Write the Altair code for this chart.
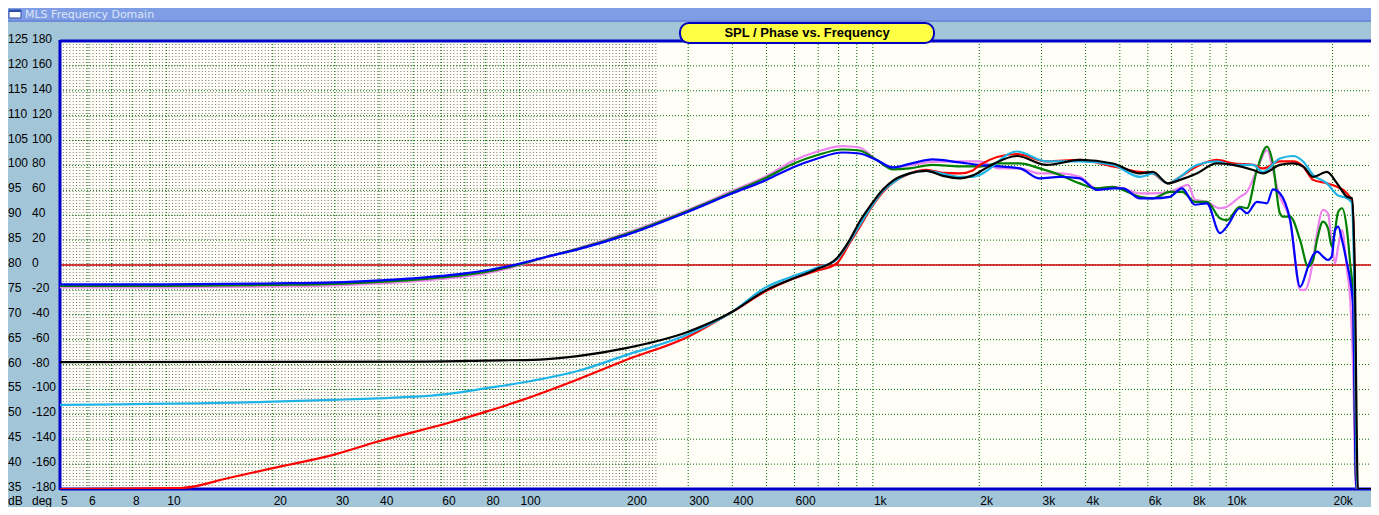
import altair as alt
import numpy as np
import pandas as pd

# ---------------- data ----------------
BLUE_F = [5, 10, 20, 30, 40, 50, 60, 70, 80, 95, 120, 147, 200, 300, 400, 500, 593, 697, 820, 916,
          1025, 1138, 1271, 1475, 1762, 2005, 2285, 2605, 2965, 3380, 3850, 4300, 4780, 5100, 5700, 6200,
          6930, 7500, 8160, 8820, 9600, 10040, 10930, 11450, 12220, 13050, 13560, 14190, 15170, 16190,
          17060, 17620, 18080, 18790, 19410, 19900, 20330, 20750, 21280, 21980, 22440, 22860, 23350, 26000]
BLUE_DB = [76.1, 76.1, 76.3, 76.5, 76.9, 77.3, 77.8, 78.3, 78.9, 79.9, 81.7, 83.2, 86.0, 90.7, 94.4,
           97.1, 99.6, 101.4, 102.6, 102.4, 101.1, 99.6, 100.3, 101.2, 100.6, 100.1, 99.8, 99.4, 97.4, 97.7,
           97.4, 95.1, 95.4, 95.4, 93.4, 93.4, 93.7, 95.4, 92.1, 92.4, 86.4, 87.7, 91.4, 90.4, 92.7, 92.4,
           95.2, 94.4, 89.0, 75.6, 79.7, 82.0, 82.7, 81.7, 81.0, 81.7, 87.0, 87.7, 85.0, 80.3, 77.0, 71.6,
           35, 35]

GREEN_F = [5, 10, 20, 30, 40, 50, 60, 70, 80, 95, 120, 147, 200, 300, 400, 500, 593, 697, 820, 916,
           1025, 1138, 1271, 1475, 1762, 2005, 2285, 2605, 2965, 3380, 3850, 4300, 4780, 5100, 5700, 6200,
           6930, 7500, 8160, 8820, 9600, 10040, 10930, 11450, 12220, 13050, 13560, 14190, 14490, 15170,
           16190, 17060, 17620, 18080, 18790, 19410, 19900, 20330, 20750, 21280, 21980, 22440, 22860,
           23350, 26000]
GREEN_DB = [75.8, 75.8, 76.0, 76.2, 76.6, 77.0, 77.5, 78.0, 78.6, 79.7, 81.7, 83.3, 86.2, 90.9,
            94.6, 97.6, 100.3, 102.1, 103.2, 103.0, 101.1, 99.2, 99.4, 100.1, 99.8, 99.8, 100.4, 100.4,
            99.4, 98.1, 96.4, 95.4, 95.7, 95.1, 93.7, 93.4, 94.7, 94.7, 92.7, 92.7, 89.4, 89.0, 91.7, 91.4,
            99.1, 103.8, 100.4, 90.4, 89.7, 89.7, 85.0, 79.7, 81.0, 85.0, 88.7, 87.4, 83.7, 87.0, 90.7,
            91.4, 87.0, 80.3, 73.6, 35, 35]

MAGENTA_F = [5, 10, 20, 30, 40, 50, 60, 70, 80, 95, 120, 147, 200, 300, 400, 500, 593, 697, 820,
             916, 1025, 1138, 1271, 1475, 1762, 2005, 2285, 2605, 2965, 3380, 3850, 4300, 4780, 5100, 5700,
             6200, 6930, 7500, 7800, 8160, 8820, 9600, 10040, 10930, 11450, 12220, 13050, 13560, 14190,
             14490, 15170, 16190, 16700, 17620, 18080, 18790, 19410, 19900, 20330, 20750, 21280, 21980,
             22440, 22860, 23300, 26000]
MAGENTA_DB = [75.5, 75.5, 75.7, 75.9, 76.3, 76.7, 77.2, 77.7, 78.3, 79.5, 81.6, 83.4, 86.4, 91.1,
              94.9, 97.9, 100.9, 102.8, 103.9, 103.6, 101.1, 99.6, 100.0, 100.7, 100.8, 100.8, 99.4, 99.4,
              98.4, 98.4, 97.7, 95.4, 95.7, 95.4, 94.4, 94.4, 94.7, 95.7, 96.1, 93.1, 92.7, 91.4, 91.7,
              93.7, 94.7, 99.1, 103.1, 99.1, 93.7, 92.4, 89.0, 75.0, 75.0, 81.0, 86.4, 91.1, 90.4, 84.4,
              80.3, 83.7, 87.0, 79.0, 73.0, 60.0, 35, 35]

RED_F = [5, 11, 15, 20, 29.5, 39.5, 63, 80, 100, 146, 200, 300, 400, 500, 581, 684, 789, 859, 917, 979,
         1066, 1138, 1271, 1418, 1578, 1762, 1918, 2005, 2555, 3105, 3853, 4780, 5700, 6200, 6840, 7400,
         8250, 9410, 10450, 11910, 12710, 14190, 15460, 16510, 17620, 19290, 20600, 21980, 22700, 23000,
         23450, 26000]
RED_DB = [35, 35.2, 37.2, 39.2, 41.8, 44.5, 48.3, 50.5, 52.7, 57.0, 60.9, 65.6, 70.6, 74.8, 77.0, 78.7,
          80.3, 84.4, 87.6, 91.0, 94.6, 96.5, 98.4, 99.1, 98.5, 98.4, 99.0, 100.1, 102.3, 100.8, 101.1,
          99.8, 98.7, 98.4, 96.4, 97.7, 99.8, 101.1, 100.4, 100.1, 99.4, 100.8, 100.8, 99.8, 97.1, 96.4,
          95.7, 94.4, 92.7, 85.0, 35, 35]

CYAN_F = [5, 19, 29.5, 39.5, 63, 80, 108, 146, 200, 300, 400, 500, 581, 684, 789, 859, 917, 979, 1066,
          1138, 1271, 1418, 1578, 1762, 1918, 2005, 2555, 3105, 3853, 4780, 5700, 6200, 6840, 7400, 8250,
          9410, 10450, 11910, 12710, 14190, 15460, 16510, 17620, 19290, 20600, 21980, 22700, 23000, 23500,
          26000]
CYAN_DB = [51.9, 52.5, 52.9, 53.2, 54.1, 55.2, 56.7, 58.7, 61.9, 66.1, 70.6, 75.6, 77.5, 79.3, 81.1,
           84.7, 88.0, 91.2, 94.8, 96.5, 98.4, 98.9, 98.3, 97.7, 97.7, 98.1, 102.8, 100.8, 100.8, 100.1,
           97.7, 98.4, 96.4, 97.7, 100.1, 100.8, 100.1, 100.1, 98.7, 101.4, 101.9, 100.8, 98.1, 96.4,
           94.1, 93.4, 92.4, 80.0, 35, 35]

BLACK_F = [5, 50, 80, 114, 146, 200, 300, 400, 500, 581, 684, 789, 859, 917, 979, 1066, 1138, 1271, 1418,
           1578, 1762, 1918, 2141, 2555, 3105, 3853, 4780, 5700, 6200, 6840, 7400, 8250, 9410, 10450,
           11910, 12710, 14190, 15460, 16510, 17620, 19290, 20600, 21980, 22700, 23100, 23600, 26000]
BLACK_DB = [60.5, 60.6, 60.8, 61.0, 61.7, 63.3, 66.6, 70.6, 75.0, 77.0, 79.0, 81.3, 85.0, 88.7, 91.7,
            95.1, 96.9, 98.4, 98.9, 97.9, 97.4, 98.0, 99.9, 101.9, 100.1, 101.1, 100.4, 98.4, 98.7, 96.4,
            97.1, 98.4, 100.4, 100.1, 99.1, 98.4, 100.1, 100.4, 99.8, 97.7, 98.7, 96.4, 93.7, 93.4, 80.0,
            35, 35]

# axis tick labels
DB_TICKS = [125, 120, 115, 110, 105, 100, 95, 90, 85, 80, 75, 70, 65, 60, 55, 50, 45, 40, 35]
DEG_TICKS = [180, 160, 140, 120, 100, 80, 60, 40, 20, 0, -20, -40, -60, -80, -100, -120, -140, -160, -180]
X_TICKS = [5, 6, 8, 10, 20, 30, 40, 60, 80, 100, 200, 300, 400, 600, 1000, 2000, 3000, 4000, 6000,
           8000, 10000, 20000]
X_LABELS = ["5", "6", "8", "10", "20", "30", "40", "60", "80", "100", "200", "300", "400", "600", "1k",
            "2k", "3k", "4k", "6k", "8k", "10k", "20k"]
GRID_F = [m * d for d in (1, 10, 100, 1000) for m in range(1, 10)] + [10000, 20000]
GRID_F = [g for g in GRID_F if g > 5]
GRID_DB = list(range(40, 125, 5))
FINE_GRID_F = list(np.geomspace(5, 243, 181))

# ---------------- layout ----------------
W, H = 1311, 448
xs = alt.Scale(type="log", domain=[5, 25700], nice=False)
ys = alt.Scale(domain=[35, 125], nice=False, zero=False)
one = pd.DataFrame({"a": [0]})
FONT = "Liberation Sans"


def vrect(x1, x2, y1, y2, **kw):
    return alt.Chart(one).mark_rect(**kw).encode(
        x=alt.value(x1), x2=alt.value(x2), y=alt.value(y1), y2=alt.value(y2))


def vtext(x, y, txt, **kw):
    return alt.Chart(one).mark_text(text=txt, **kw).encode(x=alt.value(x), y=alt.value(y))


layers = []
# window title bar
layers.append(vrect(-52, W, -33, -21, color="#7F9DE4"))
layers.append(vrect(-52, W, -21, -19, color="#6E8BD8"))
layers.append(vrect(-51, -39, -31, -23, color="white", stroke="#2C4DA8", strokeWidth=1))
layers.append(vrect(-51, -39, -31, -29, color="#2C4DA8"))
layers.append(vtext(-35, -26, "MLS Frequency Domain", align="left", baseline="middle",
                    fontSize=11, font="DejaVu Sans", color="#DCE6F8"))

# fine grey grid
layers.append(alt.Chart(pd.DataFrame({"f": FINE_GRID_F})).mark_rule(
    color="#7A7A7A", strokeWidth=1, strokeDash=[1, 2]).encode(
    x=alt.X("f:Q", scale=xs, axis=None), y=alt.value(0), y2=alt.value(H)))
# green grid
layers.append(alt.Chart(pd.DataFrame({"f": GRID_F})).mark_rule(
    color="#007000", strokeWidth=1, strokeDash=[1, 2]).encode(
    x=alt.X("f:Q", scale=xs, axis=None), y=alt.value(0), y2=alt.value(H)))
layers.append(alt.Chart(pd.DataFrame({"db": GRID_DB})).mark_rule(
    color="#007000", strokeWidth=1, strokeDash=[1, 2]).encode(
    y=alt.Y("db:Q", scale=ys, axis=None), x=alt.value(0), x2=alt.value(W)))
# 0 deg reference line
layers.append(alt.Chart(pd.DataFrame({"db": [80]})).mark_rule(
    color="#CC0000", strokeWidth=1.5).encode(
    y=alt.Y("db:Q", scale=ys, axis=None), x=alt.value(0), x2=alt.value(W)))

# plot border
BORDER = "#0000C8"
layers.append(alt.Chart(one).mark_rule(color=BORDER, strokeWidth=3).encode(
    x=alt.value(0), y=alt.value(-1), y2=alt.value(H + 1)))
layers.append(alt.Chart(one).mark_rule(color=BORDER, strokeWidth=3).encode(
    x=alt.value(0), x2=alt.value(W), y=alt.value(0)))
layers.append(alt.Chart(one).mark_rule(color=BORDER, strokeWidth=3).encode(
    x=alt.value(0), x2=alt.value(W), y=alt.value(H)))

# curves
series = [
    (MAGENTA_F, MAGENTA_DB, "#EE82EE"),
    (GREEN_F, GREEN_DB, "#008000"),
    (BLUE_F, BLUE_DB, "#0000FF"),
    (RED_F, RED_DB, "#FF0000"),
    (CYAN_F, CYAN_DB, "#1EB4E8"),
    (BLACK_F, BLACK_DB, "#000000"),
]
for f, d, c in series:
    df = pd.DataFrame({"f": f, "db": d})
    layers.append(alt.Chart(df).mark_line(color=c, strokeWidth=2.2, interpolate="monotone",
                                          clip=True).encode(
        x=alt.X("f:Q", scale=xs, axis=None), y=alt.Y("db:Q", scale=ys, axis=None)))

# title box
layers.append(vrect(620, 874, -18, 2, color="#FFFF44", stroke="#0000C0", strokeWidth=2,
                    cornerRadius=9))
layers.append(vtext(747, -8, "SPL / Phase vs. Frequency", align="center", baseline="middle",
                    fontSize=13, font=FONT, fontWeight="bold", color="black"))

# axis labels
ylab = pd.DataFrame({"db": DB_TICKS, "dbl": [str(v) for v in DB_TICKS],
                     "degl": [str(v) for v in DEG_TICKS]})
layers.append(alt.Chart(ylab).mark_text(align="left", baseline="middle", fontSize=12, font=FONT,
                                        color="black", dy=-2).encode(
    x=alt.value(-52), y=alt.Y("db:Q", scale=ys, axis=None), text="dbl:N"))
layers.append(alt.Chart(ylab).mark_text(align="left", baseline="middle", fontSize=12, font=FONT,
                                        color="black", dy=-2).encode(
    x=alt.value(-28), y=alt.Y("db:Q", scale=ys, axis=None), text="degl:N"))
xlab = pd.DataFrame({"f": X_TICKS, "lab": X_LABELS})
layers.append(alt.Chart(xlab).mark_text(align="left", baseline="middle", fontSize=12, font=FONT,
                                        color="black", dx=1).encode(
    x=alt.X("f:Q", scale=xs, axis=None), y=alt.value(H + 12), text="lab:N"))
layers.append(vtext(-52, H + 12, "dB", align="left", baseline="middle", fontSize=12, font=FONT,
                    color="black"))
layers.append(vtext(-28, H + 12, "deg", align="left", baseline="middle", fontSize=12, font=FONT,
                    color="black"))

chart = alt.layer(*layers).properties(
    width=W, height=H, background="#A3C5D8",
    padding={"left": 52, "top": 33, "right": 0, "bottom": 18},
    autosize=alt.AutoSizeParams(type="none"),
).configure_view(stroke=None, fill="#FFFFF7")

chart.save("out.html", embed_options={"renderer": "svg", "actions": False})
